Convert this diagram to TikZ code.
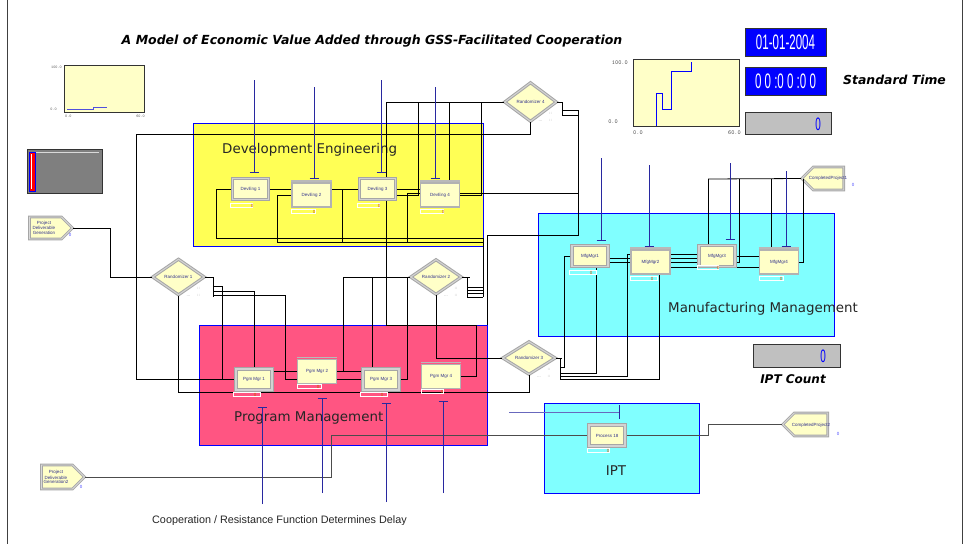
\documentclass[tikz,border=0pt]{standalone}
\usepackage{fontspec}
\setmainfont{DejaVu Sans}
\newfontfamily\arialf{Liberation Sans}
\usetikzlibrary{shapes.geometric,shapes.symbols,calc}
\definecolor{modfill}{RGB}{255,255,200}
\definecolor{devyel}{RGB}{255,255,85}
\definecolor{pgmpink}{RGB}{255,85,130}
\definecolor{mfgcyan}{RGB}{128,255,255}
\definecolor{resblue}{RGB}{40,40,160}
\definecolor{modtext}{RGB}{50,50,140}
\definecolor{ctrorange}{RGB}{200,90,0}
\definecolor{plotyel}{RGB}{255,255,200}
\definecolor{plotline}{RGB}{80,80,220}
\definecolor{boxgray}{RGB}{192,192,192}
\definecolor{darkgray}{RGB}{127,127,127}
\newcommand\modfont{\arialf\fontsize{4.5}{5}\selectfont}
\newcommand\ctr[4]{\draw[white,line width=0.7pt] (#1,#2) rectangle (#3,#2+4); \node[ctrtxt] at (#4,#2+2.5) {0};}
\tikzset{
  conn/.style={line width=0.8pt, draw=black},
  res/.style={line width=0.8pt, draw=resblue},
  procA/.style={rectangle, fill=modfill, draw=gray!70, double=gray!35, double distance=1.3pt, line width=1.1pt, minimum width=36pt, minimum height=21pt, inner sep=0pt, font=\modfont, text=modtext},
  procB/.style={rectangle, fill=modfill, draw=gray!60, line width=1.1pt, minimum width=39pt, minimum height=24pt, inner sep=0pt, font=\modfont, text=modtext},
  decide/.style={diamond, fill=modfill, draw=gray!70, double=gray!35, double distance=1.1pt, line width=1pt, inner sep=0pt, font=\modfont, text=modtext},
  createbox/.style={signal, signal to=east, fill=modfill, draw=gray!70, double=gray!30, double distance=0.9pt, line width=0.9pt, inner sep=0pt},
  disposebox/.style={signal, signal to=west, fill=modfill, draw=gray!70, double=gray!30, double distance=0.9pt, line width=0.9pt, inner sep=0pt},
  area/.style={draw=blue, line width=0.6pt},
  arealabel/.style={font=\fontsize{13.4}{13}\selectfont, inner sep=0pt, text=black!85},
  ctrtxt/.style={font=\arialf\fontsize{4.5}{5}\selectfont, text=ctrorange, inner sep=0pt},
  tick/.style={font=\ttfamily\fontsize{4}{4}\selectfont, text=gray!60!black, inner sep=0pt},
  tickb/.style={font=\ttfamily\fontsize{6}{6}\selectfont, text=gray!60!black, inner sep=0pt},
  dots/.style={font=\fontsize{4}{4}\selectfont, text=gray!70, inner sep=0pt},
  biglabel/.style={font=\bfseries\itshape\fontsize{12.4}{12}\selectfont, inner sep=0pt},
  bluebox/.style={draw=black!80, fill=blue, minimum width=81pt, minimum height=28pt, inner sep=0pt, text=white, font=\arialf, line width=0.8pt},
}
\begin{document}
\begin{tikzpicture}[x=1pt,y=-1pt]
\useasboundingbox (0,0) rectangle (963,544);
\fill[white] (0,0) rectangle (963,544);
% frame
\draw[gray!50!black, line width=0.8pt] (7,0) -- (7,544);
\draw[gray!50!black, line width=0.8pt] (962,0) -- (962,544);

% areas
\draw[area, fill=devyel] (193,123) rectangle (483,246);
\draw[area, fill=pgmpink] (199,325) rectangle (487,445);
\draw[area, fill=mfgcyan] (538,213) rectangle (834,336);
\draw[area, fill=mfgcyan] (544,403) rectangle (699,493);
\node[arealabel, anchor=west] at (222,150) {Development Engineering};
\node[arealabel, anchor=west] at (668,309) {Manufacturing Management};
\node[arealabel, anchor=west] at (234,418) {Program Management};
\node[arealabel] at (616,471) {IPT};

% title
\node[font=\bfseries\itshape\fontsize{12.5}{12}\selectfont, inner sep=0pt] (title) at (372,41) {A Model of Economic Value Added through GSS-Facilitated Cooperation};

% top-left plot
\draw[fill=plotyel, draw=black!80, line width=0.8pt] (64,65) rectangle (144,112);
\draw[plotline, line width=1pt] (67,109) -- (93,109) -- (93,107) -- (107,107);
\node[tick, anchor=east] at (62,67) {100.0};
\node[tick, anchor=east] at (57,109) {0.0};
\node[tick, anchor=west] at (65,116) {0.0};
\node[tick, anchor=east] at (145,116) {60.0};

% gray bar widget
\draw[fill=darkgray, draw=black!80, line width=0.8pt] (27,149) rectangle (102,193);
\draw[gray!30, line width=0.6pt] (30,152) -- (99,152);
\draw[blue, fill=red, line width=0.6pt] (29,152) rectangle (35,191);
\draw[white, line width=0.5pt] (31.5,154) -- (31.5,189);

% top-right plot
\draw[fill=plotyel, draw=black!80, line width=0.8pt] (633,59) rectangle (739,126);
\draw[blue, line width=0.8pt] (656,126) -- (656,93) -- (662,93) -- (662,109) -- (671,109) -- (671,71) -- (691,71) -- (691,62);
\node[tickb, anchor=east] at (628,63) {100.0};
\node[tickb, anchor=east] at (618,122) {0.0};
\node[tickb, anchor=west] at (633,133) {0.0};
\node[tickb, anchor=east] at (741,133) {60.0};

% date, clock, count boxes
\node[bluebox] (date) at (785.5,42) {\scalebox{0.55}[1]{\fontsize{21}{21}\selectfont 01-01-2004}};
\node[bluebox] (clock) at (785.5,81) {\scalebox{0.55}[1]{\fontsize{21}{21}\selectfont 0 0 :0 0 :0 0}};
\node[draw=black!80, fill=boxgray, minimum width=86pt, minimum height=22pt, inner sep=0pt, line width=0.8pt] (count1) at (788,123) {};
\node[text=blue, font=\arialf, inner sep=0pt] at (818,124) {\scalebox{0.55}[1]{\fontsize{18}{18}\selectfont 0}};
\node[biglabel, anchor=west] (stdtime) at (843,80) {Standard Time};
\node[draw=black!80, fill=boxgray, minimum width=87pt, minimum height=23pt, inner sep=0pt, line width=0.8pt] (count2) at (796.5,355.5) {};
\node[text=blue, font=\arialf, inner sep=0pt] at (823,356) {\scalebox{0.55}[1]{\fontsize{18}{18}\selectfont 0}};
\node[biglabel, font=\bfseries\itshape\fontsize{12}{12}\selectfont] (iptcount) at (793,379) {IPT Count};

% bottom text
\begin{scope}
\clip (0,0) rectangle (963,524.5);
\node[anchor=base west, font=\arialf\fontsize{10.8}{11}\selectfont, inner sep=0pt, text=black!85] (coop) at (152,523) {Cooperation / Resistance Function Determines Delay};
\end{scope}

% create / dispose shapes
\node[createbox, minimum width=43pt, minimum height=22pt] (cr1) at (45.5,228) {};
\node[createbox, minimum width=43pt, minimum height=24pt] (cr2) at (57,477) {};
\node[disposebox, minimum width=42pt, minimum height=23pt] (dp1) at (828.5,178.5) {};
\node[disposebox, minimum width=45pt, minimum height=23pt] (dp2) at (811,424.5) {};

% decide shapes
\node[decide, minimum width=52pt, minimum height=36pt] (r1) at (178.5,277) {Randomizer 1};
\node[decide, minimum width=51pt, minimum height=35pt] (r2) at (436,277) {Randomizer 2};
\node[decide, minimum width=53pt, minimum height=33pt] (r3) at (529,358) {Randomizer 3};
\node[decide, minimum width=52pt, minimum height=39pt] (r4) at (530.5,102) {Randomizer 4};

% invisible module placeholders (named, so connectors can refer to them)
\node[procA, opacity=0] (dev1) at (250.5,189) {DevEng 1};
\node[procB, opacity=0] (dev2) at (311.5,195) {DevEng 2};
\node[procA, opacity=0] (dev3) at (377.5,189) {DevEng 3};
\node[procB, opacity=0] (dev4) at (440,195) {DevEng 4};
\node[procA, opacity=0] (mfg1) at (590,256) {MfgMgr1};
\node[procB, opacity=0] (mfg2) at (650.5,262) {MfgMgr2};
\node[procA, opacity=0] (mfg3) at (717,256) {MfgMgr3};
\node[procB, opacity=0] (mfg4) at (779,262) {MfgMgr4};
\node[procA, opacity=0] (pgm1) at (254,379.5) {Pgm Mgr 1};
\node[procB, opacity=0] (pgm2) at (317,371.5) {Pgm Mgr 2};
\node[procA, opacity=0] (pgm3) at (381,379.5) {Pgm Mgr 3};
\node[procB, opacity=0] (pgm4) at (441,376.5) {Pgm Mgr 4};
\node[procA, opacity=0] (proc18) at (607,435.5) {Process 18};

% ---------- connectors ----------
\draw[conn] (cr1.east) -- (110,228) |- (r1.west);
\draw[conn] (r4.south) |- (136,134) |- (pgm1.west);
\draw[conn] (r1.east) -- (213,277) -- (213,297);
\draw[conn] (213,286) -- (222,286) |- (pgm1.west);
\draw[conn] (213,291) -- (254,291) |- (pgm2.west);
\draw[conn] (213,295) -- (285,295) |- (pgm3.west);
\draw[conn] (r1.south) -- (178.5,392) -| (r3.south);
\draw[conn] (r2.south) |- (r3.west);
\draw[conn] (r2.west) -- (343,277) |- (pgm2.east);
\draw[conn] (372,277) |- (pgm2.east);
\draw[conn] (407,277) |- (pgm3.east);
\draw[conn] (pgm4.east) -- (476,376.5) -- (476,325) -- (386,325) |- (r4.west);
\draw[conn] (dev1.east) -- (449,189) |- (r4.west);
\draw[conn] ([yshift=-6pt]dev3.east) -- (418,195) |- (r4.west);
\draw[conn] (dev4.east) -- (481,195) |- (r4.west);
\draw[conn] (407,242) -- (407,193) -- (578,193);
\draw[conn] (r4.east) -- (562,102) -- (562,115) -- (578,115);
\draw[conn] (562,110) -- (578,110) -- (578,235) -- (487,235) -- (487,325);
\draw[conn] (dev1.west) -- (216,189) -- (216,238) -- (483,238) -- (483,297);
\draw[conn] (dev2.west) -- (277,195) -- (277,242) -- (483,242);
\draw[conn] (dev3.west) -- (342,189) -- (342,242);
\draw[conn] (r2.east) -- (470,277);
\draw[conn] (467,277) -- (467,297);
\foreach \yy in {287,290,293,297} \draw[conn] (467,\yy) -- (483,\yy);
\draw[conn] (r3.east) -- (562,358);
\draw[conn] (560,358) -- (560,380);
\draw[conn] (560,367) -- (564,367) |- (mfg1.west);
\draw[conn] (560,373) -- (596,373) |- (mfg2.west);
\draw[conn] (560,376) -- (627,376) |- ([yshift=2pt]mfg3.west);
\draw[conn] (560,379) -- (659,379) |- ([yshift=-5pt]mfg4.west);
\draw[conn] ([yshift=-2pt]mfg1.east) -- (708,258) -- (708,179);
\draw[conn] (mfg2.east) -- (739,262) -- (739,179);
\draw[conn] (mfg3.east) -- (771,256) -- (771,179);
\draw[conn] (mfg4.east) -- (803,262) -- (803,179);
\draw[conn] (708,179) -- (dp1.west);
\draw[conn, draw=black!70, line width=1pt] (cr2.east) -- (331,477) |- (proc18.west);
\draw[conn, draw=black!70, line width=1pt] (proc18.east) -- (708,435.5) |- (dp2.west);

% resource lines
\foreach \x/\ya/\yb in {254/80/172, 314/87/178, 381/80/172, 435/87/178, 601/158/240, 649/165/246, 730/163/239, 786/171/246, 262/504/407, 322/493/398, 386/502/403, 443/493/401}
  {\draw[res] (\x,\ya) -- (\x,\yb); \draw[res] (\x-4.5,\yb) -- (\x+4.5,\yb);}
\draw[res, draw=resblue!70] (509,412) -- (619,412);
\draw[res] (619,405) -- (619,419);

% process modules (visible)
\node[procA] at (dev1) {DevEng 1};
\node[procB] at (dev2) {DevEng 2};
\node[procA] at (dev3) {DevEng 3};
\node[procB] at (dev4) {DevEng 4};
\node[procA] at (mfg1) {MfgMgr1};
\node[procB] at (mfg2) {MfgMgr2};
\node[procA] at (mfg3) {MfgMgr3};
\node[procB] at (mfg4) {MfgMgr4};
\node[procA] at (pgm1) {Pgm Mgr 1};
\node[procB] at (pgm2) {Pgm Mgr 2};
\node[procA] at (pgm3) {Pgm Mgr 3};
\node[procB] at (pgm4) {Pgm Mgr 4};
\node[procA] at (proc18) {Process 18};
\foreach \n in {dev2,dev4,mfg2,mfg4,pgm2,pgm4}
  \draw[gray!55, line width=1.6pt] ([yshift=1.6pt]\n.north west) -- ([yshift=1.6pt]\n.north east);

% counters
\ctr{230}{203}{252}{252}
\ctr{291}{209}{315}{314}
\ctr{357}{203}{379}{379}
\ctr{420}{209}{443}{443}
\ctr{569}{270}{596}{591}
\ctr{630}{276}{657}{652}
\ctr{697}{265}{718}{718}
\ctr{759}{276}{783}{781}
\ctr{233}{392}{260}{255}
\ctr{297}{384}{321}{318}
\ctr{360}{392}{387}{382}
\ctr{421}{389}{443}{442}
\ctr{587}{448}{609}{608}

% create / dispose labels
\node[font=\modfont, text=modtext, align=center, inner sep=0pt] at (44,228) {Project\\Deliverable\\Generation};
\node[font=\arialf\fontsize{4.5}{3.2}\selectfont, text=modtext, align=center, inner sep=0pt] at (56,477) {Project\\[1pt]Deliverable\\Generation2};
\node[font=\modfont, text=modtext, inner sep=0pt] at (828,178.5) {CompletedProject1};
\node[font=\modfont, text=modtext, inner sep=0pt] at (811,425) {CompletedProject2};
\node[font=\modfont, text=blue!70, inner sep=0pt] at (70,235) {0};
\node[font=\modfont, text=blue!70, inner sep=0pt] at (81,487) {0};
\node[font=\modfont, text=blue!70, inner sep=0pt] at (853,185) {0};
\node[font=\modfont, text=blue!70, inner sep=0pt] at (838,434) {0};

% decide dots
\foreach \cx/\cy in {178.5/277, 436/277, 529/358, 530.5/102} {
  \node[dots] at (\cx+20,\cy+11) {::};
  \node[dots] at (\cx+20,\cy+18) {::};
  \node[dots] at (\cx+10,\cy+19) {...};
}
\end{tikzpicture}
\end{document}
